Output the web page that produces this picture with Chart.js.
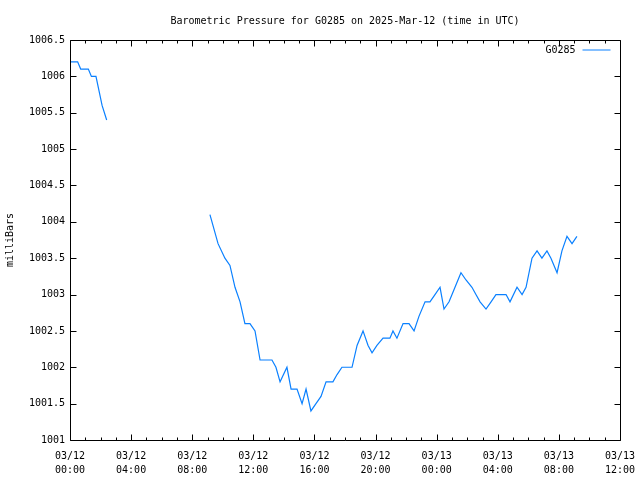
<!DOCTYPE html>
<html>
<head>
<meta charset="utf-8">
<script src="https://cdn.jsdelivr.net/npm/chart.js@4/dist/chart.umd.min.js"></script>
<style>
  body { margin: 0; background: #fff; }
  #wrap { width: 640px; height: 480px; }
</style>
</head>
<body>
<div id="wrap"><canvas id="baro" width="640" height="480"></canvas></div>
<script>
// hours since 03/12 00:00 UTC; null splits the line where data is missing
const hours = [
  0, 0.5, 0.7, 1.2, 1.4, 1.7, 1.9, 2.1, 2.4,
  5,
  9.16, 9.69, 10.14, 10.47, 10.8, 11.13, 11.45, 11.78, 12.11, 12.44,
  13.22, 13.48, 13.75, 14.2, 14.47, 14.86, 15.19, 15.45, 15.77, 16.1,
  16.43, 16.76, 17.21, 17.48, 17.8, 18.46, 18.79, 19.18, 19.51, 19.77,
  20.09, 20.49, 20.94, 21.14, 21.4, 21.8, 22.19, 22.52, 22.84, 23.24,
  23.56, 23.89, 24.22, 24.48, 24.81, 25.2, 25.59, 25.92, 26.31, 26.57,
  26.84, 27.23, 27.56, 27.88, 28.54, 28.8, 29.26, 29.59, 29.85, 30.24,
  30.57, 30.89, 31.22, 31.48, 31.88, 32.2, 32.53, 32.86, 33.18
];
const pressure = [
  1006.2, 1006.2, 1006.1, 1006.1, 1006.0, 1006.0, 1005.8, 1005.6, 1005.4,
  null,
  1004.1, 1003.7, 1003.5, 1003.4, 1003.1, 1002.9, 1002.6, 1002.6, 1002.5, 1002.1,
  1002.1, 1002.0, 1001.8, 1002.0, 1001.7, 1001.7, 1001.5, 1001.7, 1001.4, 1001.5,
  1001.6, 1001.8, 1001.8, 1001.9, 1002.0, 1002.0, 1002.3, 1002.5, 1002.3, 1002.2,
  1002.3, 1002.4, 1002.4, 1002.5, 1002.4, 1002.6, 1002.6, 1002.5, 1002.7, 1002.9,
  1002.9, 1003.0, 1003.1, 1002.8, 1002.9, 1003.1, 1003.3, 1003.2, 1003.1, 1003.0,
  1002.9, 1002.8, 1002.9, 1003.0, 1003.0, 1002.9, 1003.1, 1003.0, 1003.1, 1003.5,
  1003.6, 1003.5, 1003.6, 1003.5, 1003.3, 1003.6, 1003.8, 1003.7, 1003.8
];
const xTickLabels = {
  0: ["03/12", "00:00"], 4: ["03/12", "04:00"], 8: ["03/12", "08:00"],
  12: ["03/12", "12:00"], 16: ["03/12", "16:00"], 20: ["03/12", "20:00"],
  24: ["03/13", "00:00"], 28: ["03/13", "04:00"], 32: ["03/13", "08:00"],
  36: ["03/13", "12:00"]
};

const mono = "'DejaVu Sans Mono', 'Liberation Mono', monospace";
const lineColor = "rgb(10, 128, 255)";

// gnuplot-like frame: box plus inward ticks on all four sides, and the legend
const framePlugin = {
  id: "frame",
  afterDraw(chart) {
    const ctx = chart.ctx;
    const a = chart.chartArea;
    const xs = chart.scales.x;
    const ys = chart.scales.y;
    const L = Math.round(a.left) + 0.5, R = Math.round(a.right) + 0.5;
    const T = Math.round(a.top) + 0.5, B = Math.round(a.bottom) + 0.5;
    ctx.save();
    ctx.strokeStyle = "#000";
    ctx.lineWidth = 1;
    ctx.beginPath();
    ctx.rect(L, T, R - L, B - T);
    for (let h = 0; h <= 36; h++) {
      const px = Math.round(xs.getPixelForValue(h)) + 0.5;
      const len = h % 4 === 0 ? 6 : 3;
      ctx.moveTo(px, B); ctx.lineTo(px, B - len);
      ctx.moveTo(px, T); ctx.lineTo(px, T + len);
    }
    for (let v = 1001; v <= 1006.5; v += 0.5) {
      const py = Math.round(ys.getPixelForValue(v)) + 0.5;
      ctx.moveTo(L, py); ctx.lineTo(L + 6, py);
      ctx.moveTo(R, py); ctx.lineTo(R - 6, py);
    }
    ctx.stroke();

    ctx.fillStyle = "#000";
    ctx.font = "10px " + mono;
    ctx.textAlign = "right";
    ctx.textBaseline = "middle";
    ctx.fillText(chart.data.datasets[0].label, R - 45, T + 10);
    ctx.strokeStyle = lineColor;
    ctx.beginPath();
    ctx.moveTo(R - 38, T + 9.5);
    ctx.lineTo(R - 10, T + 9.5);
    ctx.stroke();
    ctx.restore();
  }
};

new Chart(document.getElementById("baro"), {
  type: "line",
  data: {
    datasets: [{
      label: "G0285",
      data: hours.map((h, i) => ({ x: h, y: pressure[i] })),
      borderColor: lineColor,
      borderWidth: 1.2,
      pointRadius: 0,
      tension: 0,
      spanGaps: false,
      fill: false
    }]
  },
  options: {
    responsive: false,
    animation: false,
    devicePixelRatio: 1,
    layout: { padding: { left: 0, right: 20, top: 0, bottom: 0 } },
    plugins: {
      legend: { display: false },
      tooltip: { enabled: false },
      title: {
        display: true,
        fullSize: false,
        text: "Barometric Pressure for G0285 on 2025-Mar-12 (time in UTC)",
        color: "#000",
        font: { family: mono, size: 10, weight: "normal", lineHeight: 1.2 },
        padding: { top: 15, bottom: 13 }
      }
    },
    scales: {
      x: {
        type: "linear",
        min: 0,
        max: 36,
        grid: { display: false, drawTicks: false },
        border: { display: false },
        afterFit(scale) {
          scale.height = 40;
          scale.paddingLeft = 0;
          scale.paddingRight = 0;
        },
        ticks: {
          stepSize: 4,
          autoSkip: false,
          maxRotation: 0,
          padding: 9,
          color: "#000",
          font: { family: mono, size: 10, lineHeight: 1.4 },
          callback: (v) => xTickLabels[v] || ""
        }
      },
      y: {
        min: 1001,
        max: 1006.5,
        grid: { display: false, drawTicks: false },
        border: { display: false },
        afterFit(scale) { scale.width = 70; },
        title: {
          display: true,
          text: "milliBars",
          color: "#000",
          font: { family: mono, size: 10, lineHeight: 1.2 },
          padding: { top: 4, bottom: 0 }
        },
        ticks: {
          stepSize: 0.5,
          padding: 5,
          color: "#000",
          font: { family: mono, size: 10 },
          callback: (v) => String(v)
        }
      }
    }
  },
  plugins: [framePlugin]
});
</script>
</body>
</html>
